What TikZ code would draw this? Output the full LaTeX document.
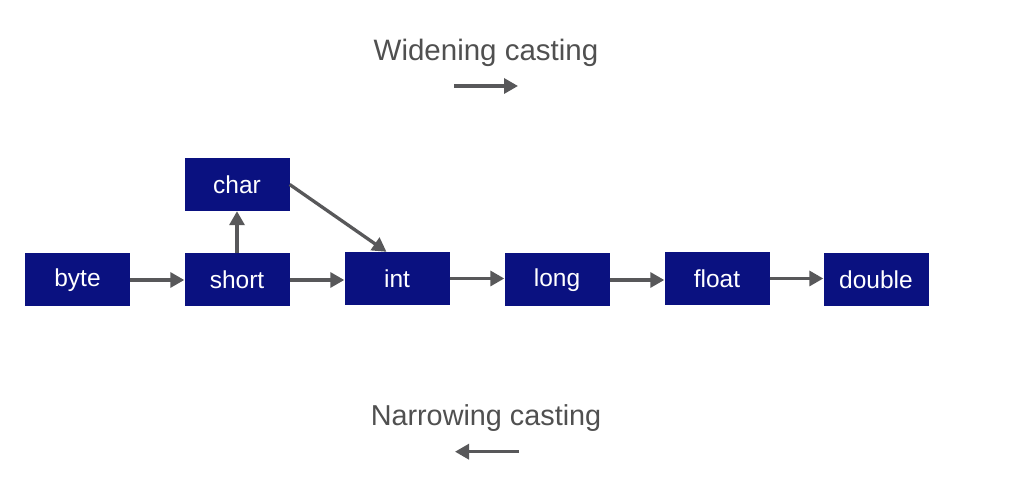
\documentclass[tikz,border=0pt]{standalone}
\usepackage{fontspec}
\setmainfont{Liberation Sans}
\usetikzlibrary{arrows.meta,calc}
\definecolor{boxblue}{RGB}{10,17,128}
\definecolor{arrowgray}{RGB}{88,88,90}
\definecolor{textgray}{RGB}{80,80,80}
\begin{document}
\begin{tikzpicture}[x=1pt,y=1pt,
  typebox/.style={fill=boxblue, draw=none, minimum width=105pt, minimum height=53pt,
    inner sep=0pt, text=white, font=\fontsize{24.5}{28}\selectfont},
  conn/.style={draw=arrowgray, line width=3.3pt, -{Triangle[length=14pt,width=15pt]}},
  caption/.style={text=textgray, font=\fontsize{29.5}{34}\selectfont, anchor=base, inner sep=0pt}]
\useasboundingbox (0,0) rectangle (1021,484);
\fill[white] (0,0) rectangle (1021,484);
\node[typebox] (byte) at (77.5,204) {byte};
\node[typebox] (short) at (237,204) {short};
\node[typebox] (char) at (237,299.5) {char};
\node[typebox] (int) at (397,205.5) {int};
\node[typebox] (long) at (557,204) {long};
\node[typebox] (float) at (717,205.5) {float};
\node[typebox] (double) at (876,204) {double};
\node[caption] (wide) at (486,423) {Widening casting};
\node[caption, font=\fontsize{28.8}{34}\selectfont] (narrow) at (486,58) {Narrowing casting};
\coordinate (w1) at (454,398);
\coordinate (w2) at (518,398);
\coordinate (n1) at (519,32.3);
\coordinate (n2) at (455,32.3);
\draw[conn] (byte.east) -- (byte.east -| short.west);
\draw[conn] (short.east) -- (short.east -| int.west);
\draw[conn] (int.east) -- (int.east -| long.west);
\draw[conn] (long.east) -- (long.east -| float.west);
\draw[conn] (float.east) -- (float.east -| double.west);
\draw[conn] (short.north) -- (char.south);
\draw[conn] (char.east) -- ($(int.north west)!0.4!(int.north east)$);
\draw[conn] (w1) -- (w2);
\draw[conn] (n1) -- (n2);
\end{tikzpicture}
\end{document}
